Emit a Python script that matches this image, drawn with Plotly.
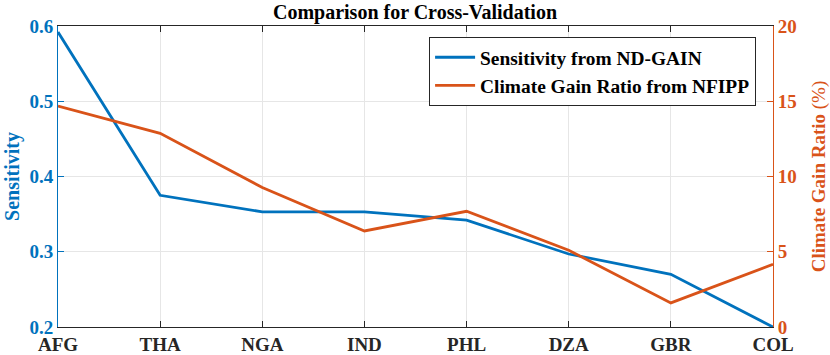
import plotly.graph_objects as go

countries = ["AFG", "THA", "NGA", "IND", "PHL", "DZA", "GBR", "COL"]
sensitivity = [0.592, 0.375, 0.353, 0.353, 0.342, 0.297, 0.270, 0.200]
gain_ratio = [14.68, 12.87, 9.27, 6.38, 7.69, 5.10, 1.60, 4.17]
sens_ticks = [0.2, 0.3, 0.4, 0.5, 0.6]
gain_ticks = [0, 5, 10, 15, 20]

BLUE = "#0072BD"
ORANGE = "#D95319"
FONT = "Liberation Serif"

fig = go.Figure()
fig.add_trace(go.Scatter(x=countries, y=sensitivity, mode="lines",
                         name="<b>Sensitivity from ND-GAIN</b>",
                         line=dict(color=BLUE, width=2.8), yaxis="y"))
fig.add_trace(go.Scatter(x=countries, y=gain_ratio, mode="lines",
                         name="<b>Climate Gain Ratio from NFIPP</b>",
                         line=dict(color=ORANGE, width=2.8), yaxis="y2"))

fig.update_layout(
    width=830, height=355,
    margin=dict(l=58, r=57, t=26, b=28, autoexpand=False),
    paper_bgcolor="white", plot_bgcolor="white",
    font=dict(family=FONT, size=18, color="#262626"),
    title=dict(text="<b>Comparison for Cross-Validation</b>",
               x=0.5, xanchor="center", y=0.965, yanchor="middle",
               font=dict(family=FONT, size=20, color="black")),
    showlegend=True,
    legend=dict(x=0.519, y=0.963, xanchor="left", yanchor="top",
                bgcolor="white", bordercolor="#262626", borderwidth=1,
                font=dict(family=FONT, size=19.4, color="black"),
                tracegroupgap=0, itemwidth=40),
    xaxis=dict(type="category", range=[0, 7], automargin=False,
               showgrid=True, gridcolor="#E6E6E6", gridwidth=1,
               showline=True, linecolor="#262626", linewidth=1, mirror="ticks",
               ticks="inside", ticklen=6, tickcolor="#262626",
               tickvals=countries, ticktext=["<b>%s</b>" % c for c in countries],
               tickfont=dict(family=FONT, size=19, color="#262626"),
               zeroline=False),
    yaxis=dict(range=[0.2, 0.6], automargin=False, tickvals=sens_ticks,
               ticktext=["<b>%.1f</b>" % v for v in sens_ticks],
               showgrid=True, gridcolor="#E6E6E6", gridwidth=1,
               showline=True, linecolor=BLUE, linewidth=1,
               ticks="inside", ticklen=6, tickcolor=BLUE,
               tickfont=dict(family=FONT, size=19, color=BLUE),
               zeroline=False,
               title=dict(text="<b>Sensitivity</b>", standoff=4,
                          font=dict(family=FONT, size=20, color=BLUE))),
    yaxis2=dict(range=[0, 20], automargin=False, tickvals=gain_ticks,
                ticktext=["<b>%d</b>" % v for v in gain_ticks],
                overlaying="y", side="right",
                showgrid=False,
                showline=True, linecolor=ORANGE, linewidth=1,
                ticks="inside", ticklen=6, tickcolor=ORANGE,
                tickfont=dict(family=FONT, size=19, color=ORANGE),
                zeroline=False,
                title=dict(text="<b>Climate Gain Ratio </b>(%)", standoff=20,
                           font=dict(family=FONT, size=19, color=ORANGE))),
)

fig.write_html("out.html", config={"displayModeBar": False},
               post_script="document.body.style.margin='0';document.body.style.overflow='hidden';")
